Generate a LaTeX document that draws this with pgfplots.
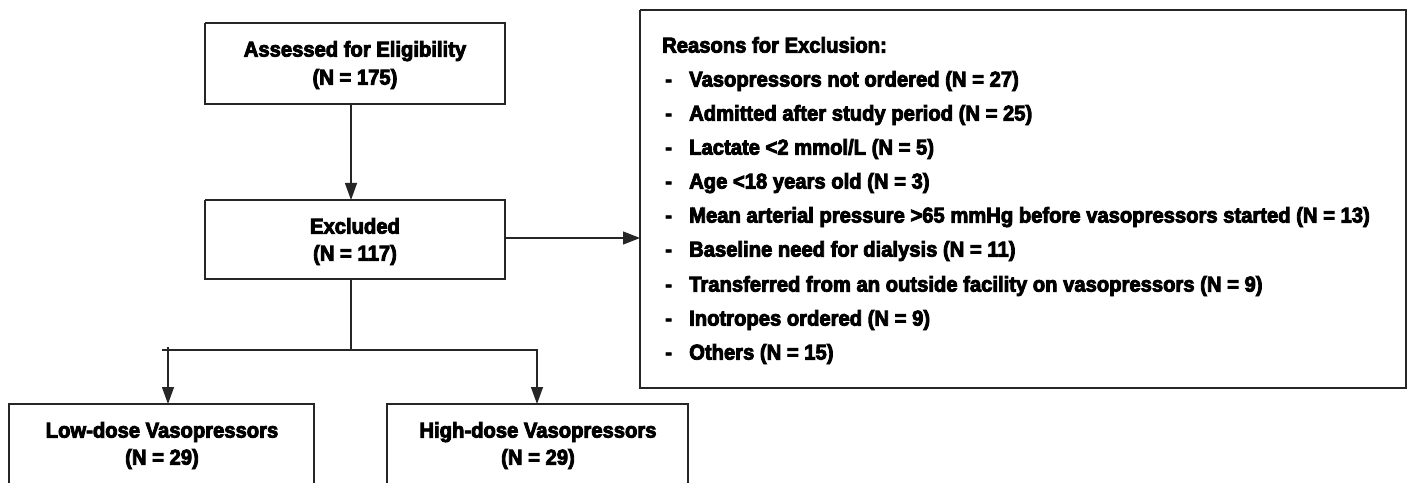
\documentclass[border=0pt]{standalone}
\usepackage{fontspec}
\setmainfont{Liberation Sans}[FakeStretch=0.94, FakeBold=4]
\usepackage{pgfplots}
\pgfplotsset{compat=1.18}
\usetikzlibrary{arrows.meta}
\tikzset{txt/.style={font=\fontsize{21.5}{26}\selectfont\bfseries, inner sep=0pt, text height=0.72em, text depth=0pt, yshift=-2pt},
  ln/.style={draw=black!85, line width=1.3pt, line join=miter, mark=none}}
\begin{document}
\begin{tikzpicture}
\begin{axis}[
  scale only axis, width=1410pt, height=483pt,
  xmin=0, xmax=1410, ymin=0, ymax=483, y dir=reverse,
  hide axis, clip=false,
]
% invisible frame for bounding box
\addplot[draw=none, mark=none] coordinates {(0,0) (1410,483)};
% boxes
\addplot[ln] coordinates {(205,23) (505,23) (505,104) (205,104) (205,23)};
\addplot[ln] coordinates {(205,200) (505,200) (505,279) (205,279) (205,200)};
\addplot[ln] coordinates {(640,10) (1406,10) (1406,388) (640,388) (640,10)};
\addplot[ln] coordinates {(9,483) (9,404) (314,404) (314,483)};
\addplot[ln] coordinates {(387,483) (387,404) (688,404) (688,483)};
% connectors
\addplot[ln, -{Triangle[length=17pt,width=12pt]}] coordinates {(351,104) (351,200)};
\addplot[ln, -{Triangle[length=17pt,width=13pt]}] coordinates {(505,238) (640,238)};
\addplot[ln] coordinates {(351,279) (351,350)};
\addplot[ln] coordinates {(162,350) (538,350)};
\addplot[ln, -{Triangle[length=17pt,width=12pt]}] coordinates {(168,347) (168,404)};
\addplot[ln, -{Triangle[length=17pt,width=12pt]}] coordinates {(537,350) (537,404)};
% box texts
\node[txt] at (axis cs:355,51) {Assessed for Eligibility};
\node[txt] at (axis cs:355,79) {(N = 175)};
\node[txt] at (axis cs:355,228) {Excluded};
\node[txt] at (axis cs:355,255) {(N = 117)};
\node[txt] at (axis cs:162,432) {Low-dose Vasopressors};
\node[txt] at (axis cs:162,459) {(N = 29)};
\node[txt] at (axis cs:538,432) {High-dose Vasopressors};
\node[txt] at (axis cs:538,459) {(N = 29)};
% reasons
\node[txt, anchor=west] at (axis cs:662,47) {Reasons for Exclusion:};
\node[txt, anchor=west] at (axis cs:665,81) {-};
\node[txt, anchor=west] at (axis cs:665,115) {-};
\node[txt, anchor=west] at (axis cs:665,149) {-};
\node[txt, anchor=west] at (axis cs:665,183) {-};
\node[txt, anchor=west] at (axis cs:665,217) {-};
\node[txt, anchor=west] at (axis cs:665,251) {-};
\node[txt, anchor=west] at (axis cs:665,286) {-};
\node[txt, anchor=west] at (axis cs:665,320) {-};
\node[txt, anchor=west] at (axis cs:665,354) {-};
\node[txt, anchor=west] at (axis cs:689,81) {Vasopressors not ordered (N = 27)};
\node[txt, anchor=west] at (axis cs:689,115) {Admitted after study period (N = 25)};
\node[txt, anchor=west] at (axis cs:689,149) {Lactate <2 mmol/L (N = 5)};
\node[txt, anchor=west] at (axis cs:689,183) {Age <18 years old (N = 3)};
\node[txt, anchor=west] at (axis cs:689,217) {Mean arterial pressure >65 mmHg before vasopressors started (N = 13)};
\node[txt, anchor=west] at (axis cs:689,251) {Baseline need for dialysis (N = 11)};
\node[txt, anchor=west] at (axis cs:689,286) {Transferred from an outside facility on vasopressors (N = 9)};
\node[txt, anchor=west] at (axis cs:689,320) {Inotropes ordered (N = 9)};
\node[txt, anchor=west] at (axis cs:689,354) {Others (N = 15)};
\end{axis}
\end{tikzpicture}
\end{document}
